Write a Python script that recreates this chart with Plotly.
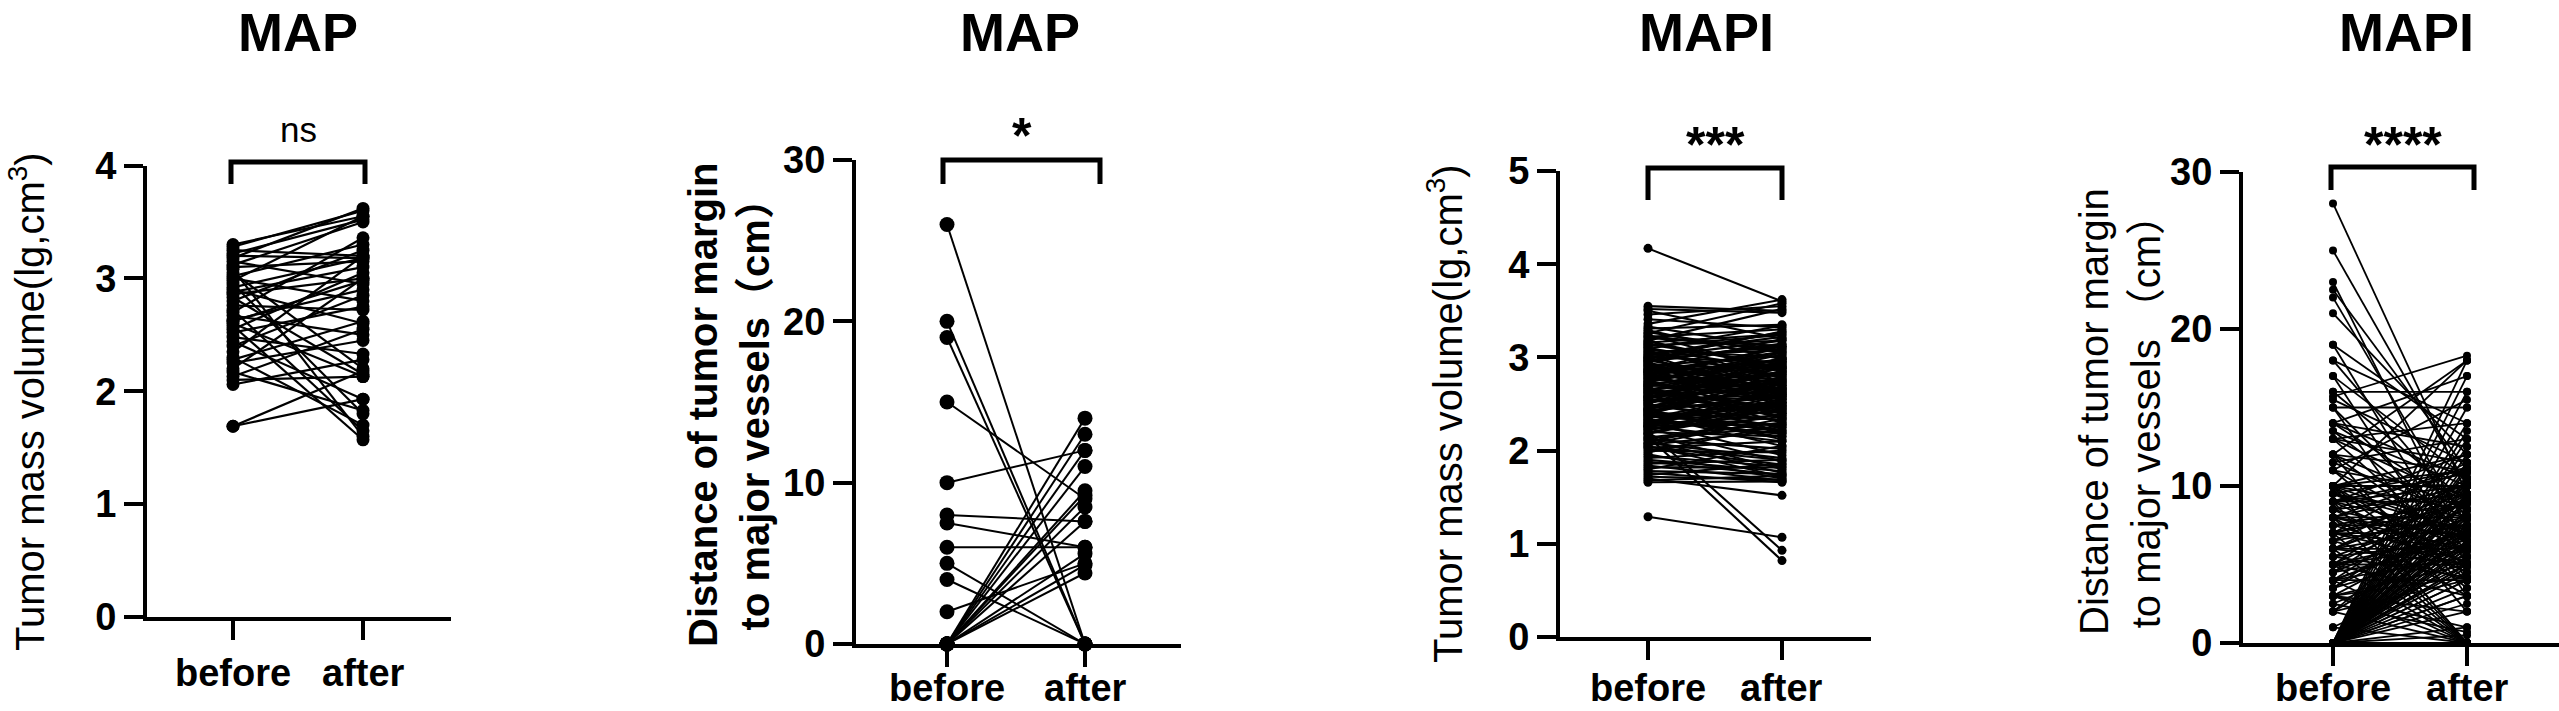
import plotly.graph_objects as go

W, H = 2559, 711
FONT = "Liberation Sans, Arial, Noto Sans CJK SC"

groups = ["before", "after"]

# MAP: tumor mass volume (lg, cm3)
map_vol_before = [3.30, 3.28, 3.25, 3.22, 3.20, 3.18, 3.15, 3.12, 3.10, 3.05,
                  3.02, 3.00, 2.98, 2.95, 2.92, 2.90, 2.86, 2.83, 2.80, 2.76,
                  2.72, 2.70, 2.67, 2.63, 2.60, 2.58, 2.55, 2.52, 2.48, 2.44,
                  2.40, 2.35, 2.30, 2.28, 2.25, 2.20, 2.17, 2.13, 2.10, 2.06,
                  1.69, 2.62, 2.88, 3.08, 1.69]
map_vol_after = [3.55, 3.60, 3.20, 3.52, 3.18, 3.62, 2.95, 3.50, 3.15, 2.20,
                 3.30, 2.80, 3.55, 1.80, 3.18, 2.60, 3.00, 2.15, 3.25, 2.72,
                 1.65, 3.36, 2.50, 2.90, 2.13, 1.57, 3.05, 2.75, 2.33, 1.93,
                 2.85, 3.20, 1.70, 2.62, 2.45, 3.00, 1.83, 2.55, 2.13, 2.28,
                 2.18, 2.98, 3.10, 1.60, 1.93]

# MAP: distance of tumor margin to major vessels (cm)
map_dist_before = [26, 20, 19, 15, 10, 8, 7.5, 6, 5, 4, 2,
                   0, 0, 0, 0, 0, 0, 0, 0, 0, 0, 0]
map_dist_after = [0, 0, 0, 9, 12, 7.6, 6, 6, 0, 0, 5,
                  14, 13, 12, 11, 9.5, 8.5, 7.6, 5.6, 4.9, 4.4, 9.2]

# MAPI: tumor mass volume (lg, cm3)
mapi_vol_before = [4.17, 3.55, 3.52, 3.50, 3.46, 3.41, 3.36, 3.33, 3.31, 3.29,
                   3.27, 3.26, 3.24, 3.22, 3.21, 3.19, 3.18, 3.16, 3.14, 3.13,
                   3.11, 3.09, 3.08, 3.06, 3.04, 3.03, 3.01, 3.00, 2.98, 2.97,
                   2.95, 2.94, 2.92, 2.91, 2.89, 2.87, 2.86, 2.84, 2.83, 2.81,
                   2.80, 2.78, 2.77, 2.75, 2.74, 2.72, 2.71, 2.69, 2.68, 2.66,
                   2.65, 2.63, 2.62, 2.60, 2.59, 2.57, 2.56, 2.54, 2.53, 2.51,
                   2.50, 2.48, 2.47, 2.45, 2.44, 2.42, 2.41, 2.39, 2.38, 2.36,
                   2.35, 2.33, 2.32, 2.30, 2.29, 2.27, 2.26, 2.24, 2.23, 2.21,
                   2.20, 2.18, 2.17, 2.15, 2.14, 2.12, 2.11, 2.09, 2.08, 2.06,
                   2.05, 2.03, 2.02, 2.00, 1.98, 1.96, 1.94, 1.92, 1.90, 1.88,
                   1.86, 1.84, 1.82, 1.80, 1.78, 1.76, 1.74, 1.72, 1.70, 1.68,
                   1.66, 1.29, 2.94, 2.78, 2.62, 2.46, 2.30, 2.90, 2.58, 2.26,
                   3.17, 3.02, 2.85, 2.70, 2.55, 2.40, 2.25, 3.07, 2.73, 2.43,
                   2.99, 2.82, 2.67, 2.52, 2.37, 2.22, 3.12, 2.88, 2.64, 2.34,
                   3.05, 2.96, 2.91, 2.85, 2.79, 2.76, 2.69, 2.64, 2.57, 2.50,
                   2.45, 2.39, 2.31, 2.28, 2.19, 2.13, 2.07, 3.15, 3.00, 2.93,
                   2.87, 2.81, 2.74, 2.66, 2.61, 2.54, 2.49, 2.42, 2.36, 2.27,
                   3.23, 3.10, 2.97, 2.84, 2.71, 2.58, 2.44, 2.33, 2.18, 2.04]
mapi_vol_after = [3.60, 3.50, 3.48, 3.20, 3.55, 3.32, 3.62, 3.10, 3.35, 2.98,
                  3.05, 3.58, 2.85, 3.30, 3.12, 2.74, 3.52, 3.25, 2.92, 3.18,
                  2.64, 3.34, 3.00, 2.80, 3.22, 2.55, 3.08, 2.95, 3.28, 2.70,
                  3.15, 2.48, 2.88, 3.02, 2.60, 3.20, 2.76, 2.35, 2.96, 3.10,
                  2.52, 2.90, 2.67, 3.05, 2.40, 2.82, 2.58, 2.99, 2.30, 2.73,
                  2.93, 2.45, 2.62, 2.85, 2.20, 2.70, 3.00, 2.38, 2.57, 2.79,
                  2.25, 2.66, 2.50, 2.86, 2.12, 2.60, 2.33, 2.75, 2.05, 2.47,
                  2.63, 2.18, 2.42, 1.95, 2.55, 2.28, 2.68, 1.88, 2.36, 0.93,
                  2.15, 2.45, 1.80, 0.82, 2.30, 2.02, 1.76, 2.40, 1.92, 2.22,
                  1.72, 2.10, 1.85, 1.98, 2.28, 1.70, 1.83, 2.00, 1.78, 1.74,
                  1.90, 1.68, 1.82, 2.05, 1.75, 1.66, 1.86, 1.69, 1.52, 1.73,
                  1.67, 1.07, 2.72, 3.12, 2.40, 2.90, 2.52, 2.60, 2.83, 2.10,
                  2.88, 3.27, 2.55, 2.65, 2.95, 2.20, 2.48, 2.78, 3.03, 2.58,
                  2.62, 2.98, 2.35, 2.74, 2.27, 2.50, 3.24, 2.44, 2.88, 2.15,
                  2.80, 3.14, 2.66, 3.06, 2.52, 2.94, 2.84, 2.46, 2.77, 2.96,
                  2.68, 2.22, 2.58, 2.38, 2.48, 2.25, 2.34, 2.92, 3.18, 2.64,
                  2.90, 2.70, 2.98, 2.43, 2.82, 2.60, 2.32, 2.72, 2.52, 2.66,
                  3.08, 2.86, 3.12, 2.62, 2.89, 2.42, 2.76, 2.18, 2.56, 1.90]

# MAPI: distance of tumor margin to major vessels (cm)
mapi_dist_before = [28, 25, 23, 22.5, 22, 21, 19, 19, 18, 18,
                    17, 17, 16, 16, 15.5, 15, 15, 15, 14, 14,
                    14, 13.5, 13.5, 13, 13, 13, 12, 12, 12, 12,
                    11.5, 11.5, 11, 11, 11, 10, 10, 10, 10, 10,
                    10, 10, 10, 15.7,
                    0, 0, 0, 0, 0, 0, 0, 0, 0, 0,
                    0, 0, 0, 0, 0, 0, 0, 0, 0, 0,
                    0, 0, 0, 0, 0, 0, 0, 0, 0, 0,
                    0, 0, 0, 0, 0, 0, 0, 0, 0, 0,
                    0, 0,
                    1, 2, 3, 4, 5, 6, 7, 8, 9, 10, 2.5, 3,
                    9.5, 9.5, 9.5, 9, 9, 9, 9, 9, 8.5, 8.5,
                    8.5, 8, 8, 8, 8, 8, 7.5, 7.5, 7, 7,
                    7, 7, 7, 6.5, 6.5, 6, 6, 6, 6, 6,
                    5.5, 5.5, 5, 5, 5, 5, 5, 4.5, 4.5, 4,
                    4, 4, 4, 3.5, 3.5, 3, 3, 3, 2.5, 2,
                    2, 1,
                    0, 0, 0, 0, 0, 0, 0, 0, 0, 0,
                    9, 8, 7, 6, 5, 4, 3, 10, 9.5, 8.5,
                    7.5, 6.5, 5.5, 4.5, 3.5, 2, 11, 12, 13, 14]
mapi_dist_after = [9.5, 10, 6, 11, 7.5, 12, 5, 13, 8, 14,
                   4, 10.5, 16, 9, 11.5, 6.5, 15, 3, 17, 8.5,
                   12.5, 7, 10, 5.5, 9, 14, 18, 6, 11, 2,
                   8, 13, 9.5, 4, 15.5, 10, 7, 12, 5, 18,
                   8.5, 3.5, 0, 18.3,
                   18, 17, 16, 15, 14, 13.5, 13, 12.5, 12, 11.5,
                   11, 10.5, 10, 10, 9.5, 9, 9, 8.5, 8, 8,
                   7.5, 7, 7, 6.5, 6.5, 6, 6, 5.5, 5.5, 5,
                   5, 4.5, 4, 4, 3.5, 3, 3, 2.5, 2, 1,
                   0.5, 0,
                   0, 0, 0, 0, 0, 0, 0, 0, 0, 0, 0.7, 1,
                   6, 11, 8, 9, 5, 12, 7, 10, 6.5, 9.5,
                   4.5, 8, 11, 6, 10, 3, 7.5, 9, 7, 5,
                   9.5, 11.5, 6, 8, 4, 6, 9, 7.5, 10, 5,
                   6.5, 8.5, 5, 7, 9, 10.5, 3, 6, 8, 4,
                   7, 9.5, 5.5, 6, 8, 5, 7.5, 2, 6, 4,
                   9, 5,
                   7.2, 6.8, 8.2, 5.8, 9.2, 4.8, 10.2, 6.2, 7.8, 11.2,
                   10.8, 6.8, 8.8, 9.2, 6.2, 7.2, 4.2, 11, 7.2, 11.2,
                   5.2, 10.2, 4.2, 10, 9.2, 7, 6.5, 8.5, 11.5, 10.5]

# panel geometry in page pixels: y-axis x, before/after x, x-axis end, y=0 / y=max rows
panels = [
    dict(before=map_vol_before, after=map_vol_after, ymax=4, dtick=1,
         yaxis_x=147, x0=233, x1=363, xend=451, ybot=617, ytop=165.5,
         ms=13, lw=2.2, title="MAP", title_x=298, sig="ns", sig_bold=False, sig_size=35,
         sig_y=129, br=(231, 365, 162, 184), lab_y=673,
         ytitle="Tumor mass volume(lg,cm<sup>3</sup>)", yt_x=27, yt_y=402, yt_bold=False),
    dict(before=map_dist_before, after=map_dist_after, ymax=30, dtick=10,
         yaxis_x=856, x0=947, x1=1085, xend=1181, ybot=644, ytop=160,
         ms=15, lw=2, title="MAP", title_x=1020, sig="*", sig_bold=True, sig_size=50,
         sig_y=136, br=(943, 1100, 160, 184), lab_y=None,
         ytitle="Distance of tumor margin<br>to major vessels（cm）", yt_x=729, yt_y=405, yt_bold=True),
    dict(before=mapi_vol_before, after=mapi_vol_after, ymax=5, dtick=1,
         yaxis_x=1560, x0=1648, x1=1782, xend=1871, ybot=637, ytop=171,
         ms=9, lw=2.1, title="MAPI", title_x=1706, sig="***", sig_bold=True, sig_size=50,
         sig_y=145, br=(1648, 1782, 168, 200), lab_y=None,
         ytitle="Tumor mass volume(lg,cm<sup>3</sup>)", yt_x=1445, yt_y=414, yt_bold=False),
    dict(before=mapi_dist_before, after=mapi_dist_after, ymax=30, dtick=10,
         yaxis_x=2243, x0=2333, x1=2467, xend=2559, ybot=643, ytop=172,
         ms=8, lw=1.8, title="MAPI", title_x=2406, sig="****", sig_bold=True, sig_size=50,
         sig_y=145, br=(2331, 2474, 167, 190), lab_y=None,
         ytitle="Distance of tumor margin<br>to major vessels （cm）", yt_x=2120, yt_y=412, yt_bold=False),
]


def fx(p):
    return p / W


def fy(p):
    return 1 - p / H


fig = go.Figure()
layout = dict(width=W, height=H, margin=dict(l=0, r=0, t=0, b=0, pad=0, autoexpand=False),
              paper_bgcolor="white", plot_bgcolor="white", showlegend=False,
              font=dict(family=FONT, color="black"))
annotations = []
shapes = []

for i, p in enumerate(panels):
    n = "" if i == 0 else str(i + 1)
    xa, ya = "x" + n, "y" + n

    # connecting lines for each pair
    xs, ys = [], []
    for b, a in zip(p["before"], p["after"]):
        xs += [0, 1, None]
        ys += [b, a, None]
    fig.add_trace(go.Scatter(x=xs, y=ys, mode="lines", xaxis=xa, yaxis=ya,
                             line=dict(color="black", width=p["lw"]), hoverinfo="skip"))
    fig.add_trace(go.Scatter(x=[0] * len(p["before"]) + [1] * len(p["after"]),
                             y=p["before"] + p["after"], mode="markers", xaxis=xa, yaxis=ya,
                             marker=dict(size=p["ms"], color="black"), cliponaxis=False,
                             hoverinfo="skip"))

    sp = p["x1"] - p["x0"]
    layout["xaxis" + n] = dict(
        domain=[fx(p["yaxis_x"]), fx(p["xend"])], anchor=ya, automargin=False,
        range=[(p["yaxis_x"] - p["x0"]) / sp, (p["xend"] - p["x0"]) / sp],
        tickvals=[0, 1], showticklabels=False, showgrid=False, zeroline=False,
        showline=True, linewidth=4, linecolor="black",
        ticks="outside", ticklen=19, tickwidth=4, tickcolor="black")
    layout["yaxis" + n] = dict(
        domain=[fy(p["ybot"]), fy(p["ytop"])], anchor=xa, automargin=False,
        range=[0, p["ymax"]], dtick=p["dtick"], tick0=0, showgrid=False, zeroline=False,
        showline=True, linewidth=4, linecolor="black",
        ticks="outside", ticklen=19, tickwidth=4, tickcolor="black",
        tickfont=dict(size=38, weight="bold"))

    # group labels under the x axis
    for k, g in enumerate(groups):
        if p["lab_y"] is None:
            ly, anchor = 0, "bottom"
        else:
            ly, anchor = fy(p["lab_y"]), "middle"
        annotations.append(dict(text=g, x=k, xref=xa, y=ly, yref="paper",
                                xanchor="center", yanchor=anchor, showarrow=False,
                                font=dict(size=38, weight="bold")))

    # panel title, kept inside the top edge
    annotations.append(dict(text=p["title"], x=fx(p["title_x"]), y=1, xref="paper", yref="paper",
                            xanchor="center", yanchor="top", showarrow=False,
                            font=dict(size=54, weight="bold")))
    # significance label and bracket
    annotations.append(dict(text=p["sig"], x=fx((p["br"][0] + p["br"][1]) / 2), y=fy(p["sig_y"]),
                            xref="paper", yref="paper", xanchor="center", yanchor="middle",
                            showarrow=False,
                            font=dict(size=p["sig_size"], weight="bold" if p["sig_bold"] else "normal")))
    bx0, bx1, btop, bleg = p["br"]
    shapes.append(dict(type="path", xref="paper", yref="paper",
                       path="M %f,%f L %f,%f L %f,%f L %f,%f" % (fx(bx0), fy(bleg), fx(bx0), fy(btop),
                                                               fx(bx1), fy(btop), fx(bx1), fy(bleg)),
                       line=dict(color="black", width=5)))
    # y-axis title
    annotations.append(dict(text=p["ytitle"], x=fx(p["yt_x"]), y=fy(p["yt_y"]), xref="paper", yref="paper",
                            xanchor="center", yanchor="middle", showarrow=False, textangle=-90,
                            font=dict(size=40, weight="bold" if p["yt_bold"] else "normal")))

layout["annotations"] = annotations
layout["shapes"] = shapes
fig.update_layout(**layout)
fig.write_html("out.html", config={"displayModeBar": False},
               post_script="document.body.style.margin='0';")
